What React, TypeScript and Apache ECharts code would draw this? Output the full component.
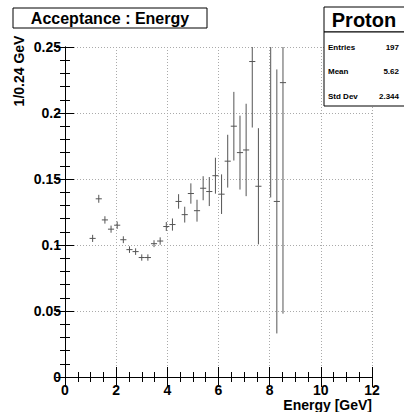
import React, { useEffect, useRef } from "react";
import * as echarts from "echarts";

const energies = [1.08, 1.32, 1.56, 1.8, 2.04, 2.28, 2.52, 2.76, 3.0, 3.24, 3.48, 3.72, 3.96, 4.2, 4.44, 4.68, 4.92, 5.16, 5.4, 5.64, 5.88, 6.12, 6.36, 6.6, 6.84, 7.08, 7.32, 7.56, 8.04, 8.28, 8.52];
const acceptance = [0.105, 0.135, 0.119, 0.112, 0.115, 0.104, 0.0965, 0.095, 0.0905, 0.0905, 0.101, 0.103, 0.114, 0.1155, 0.133, 0.123, 0.139, 0.126, 0.143, 0.1405, 0.1525, 0.1385, 0.1635, 0.19, 0.17, 0.172, 0.239, 0.1445, 0.3, 0.133, 0.223];
const errors = [0.0027, 0.003, 0.0028, 0.0027, 0.0028, 0.0026, 0.0025, 0.0025, 0.0024, 0.0024, 0.0026, 0.0028, 0.0034, 0.0046, 0.0055, 0.006, 0.0077, 0.0083, 0.0091, 0.011, 0.0136, 0.015, 0.02, 0.026, 0.028, 0.035, 0.05, 0.044, 0.164, 0.1, 0.175];
const binHalfWidth = 0.12;
const xTicks = [0, 2, 4, 6, 8, 10, 12];
const yTicks = [0, 0.05, 0.1, 0.15, 0.2, 0.25];
const statLabels = ["Entries", "Mean", "Std Dev"];
const statValues = ["197", "5.62", "2.344"];

const FONT = "'Liberation Sans', Arial, Helvetica, sans-serif";

export default function App() {
  const ref = useRef<HTMLDivElement>(null);
  useEffect(() => {
    if (!ref.current) return;
    const chart = echarts.init(ref.current, null, { renderer: "svg" });
    const yMin = yTicks[0];
    const yMax = yTicks[yTicks.length - 1];
    const data = energies.map((e, i) => [e, acceptance[i], errors[i]]);

    const axisCommon = {
      type: "value" as const,
      axisLine: { show: true, lineStyle: { color: "#000", width: 1 } },
      axisTick: { show: true, inside: true, length: 10, lineStyle: { color: "#000", width: 1 } },
      minorTick: { show: true, length: 5, lineStyle: { color: "#000", width: 1 } },
    };

    const stats: any[] = [];
    statLabels.forEach((l, i) => {
      stats.push({
        type: "text", z: 101, left: undefined,
        x: 328, y: 47 + i * 24.5,
        style: { text: l, fill: "#000", font: `bold 8px ${FONT}`, textAlign: "left", textVerticalAlign: "middle" },
      });
      stats.push({
        type: "text", z: 101,
        x: 399, y: 47 + i * 24.5,
        style: { text: statValues[i], fill: "#000", font: `bold 8px ${FONT}`, textAlign: "right", textVerticalAlign: "middle" },
      });
    });

    chart.setOption({
      animation: false,
      backgroundColor: "#fff",
      grid: { left: 65, right: 32, top: 47, bottom: 35 },
      xAxis: [
        {
          ...axisCommon,
          min: 0, max: 12, interval: 2,
          minorTick: { ...axisCommon.minorTick, splitNumber: 4 },
          splitLine: { show: true, lineStyle: { color: "#aaa", type: [1, 2], width: 1 } },
          axisLabel: { color: "#000", fontFamily: FONT, fontWeight: "bold", fontSize: 14, margin: 6 },
        },
        {
          ...axisCommon,
          position: "top",
          min: 0, max: 12, interval: 2,
          minorTick: { ...axisCommon.minorTick, splitNumber: 4 },
          splitLine: { show: false },
          axisLabel: { show: false },
        },
      ],
      yAxis: [
        {
          ...axisCommon,
          min: yMin, max: yMax, interval: 0.05,
          axisTick: { ...axisCommon.axisTick, length: 9 },
          minorTick: { ...axisCommon.minorTick, splitNumber: 5 },
          splitLine: { show: true, lineStyle: { color: "#aaa", type: [1, 2], width: 1 } },
          axisLabel: { color: "#000", fontFamily: FONT, fontWeight: "bold", fontSize: 14, margin: 4 },
        },
        {
          ...axisCommon,
          position: "right",
          min: yMin, max: yMax, interval: 0.05,
          axisTick: { ...axisCommon.axisTick, length: 9 },
          minorTick: { ...axisCommon.minorTick, splitNumber: 5 },
          splitLine: { show: false },
          axisLabel: { show: false },
        },
      ],
      series: [
        {
          type: "custom",
          xAxisIndex: 0,
          yAxisIndex: 0,
          data,
          renderItem: (params: any, api: any) => {
            const x = api.value(0);
            const y = api.value(1);
            const err = api.value(2);
            const lo = Math.max(yMin, y - err);
            const hi = Math.min(yMax, y + err);
            const children: any[] = [];
            const stroke = { stroke: "#555", lineWidth: 1 };
            if (hi > lo) {
              const p1 = api.coord([x, lo]);
              const p2 = api.coord([x, hi]);
              children.push({ type: "line", shape: { x1: p1[0], y1: p1[1], x2: p2[0], y2: p2[1] }, style: stroke });
            }
            if (y <= yMax && y >= yMin) {
              const a = api.coord([x - binHalfWidth, y]);
              const b = api.coord([x + binHalfWidth, y]);
              children.push({ type: "line", shape: { x1: a[0], y1: a[1], x2: b[0], y2: b[1] }, style: stroke });
            }
            return { type: "group", children };
          },
        },
      ],
      graphic: [
        {
          type: "rect", z: 100,
          shape: { x: 13, y: 8, width: 194, height: 20 },
          style: { fill: "#fff", stroke: "#000", lineWidth: 1 },
        },
        {
          type: "text", z: 101, x: 110, y: 18.5,
          style: { text: "Acceptance : Energy", fill: "#000", font: `bold 16px ${FONT}`, textAlign: "center", textVerticalAlign: "middle" },
        },
        {
          type: "rect", z: 100,
          shape: { x: 324, y: 7, width: 100, height: 25 },
          style: { fill: "#fff", stroke: "#000", lineWidth: 1 },
        },
        {
          type: "text", z: 101, x: 364, y: 20,
          style: { text: "Proton", fill: "#000", font: `bold 20px ${FONT}`, textAlign: "center", textVerticalAlign: "middle" },
        },
        {
          type: "rect", z: 100,
          shape: { x: 324, y: 32, width: 100, height: 74 },
          style: { fill: "#fff", stroke: "#000", lineWidth: 1 },
        },
        ...stats,
        {
          type: "text", z: 101, x: 372, y: 405,
          style: { text: "Energy [GeV]", fill: "#000", font: `bold 14px ${FONT}`, textAlign: "right", textVerticalAlign: "middle" },
        },
        {
          type: "text", z: 101, x: 19, y: 71, rotation: Math.PI / 2,
          style: { text: "1/0.24 GeV", fill: "#000", font: `bold 14px ${FONT}`, textAlign: "center", textVerticalAlign: "middle" },
        },
      ],
    });
    return () => chart.dispose();
  }, []);
  return (
    <div
      ref={ref}
      style={{ position: "absolute", left: 0, top: 0, width: 404, height: 412, background: "#fff" }}
    />
  );
}
